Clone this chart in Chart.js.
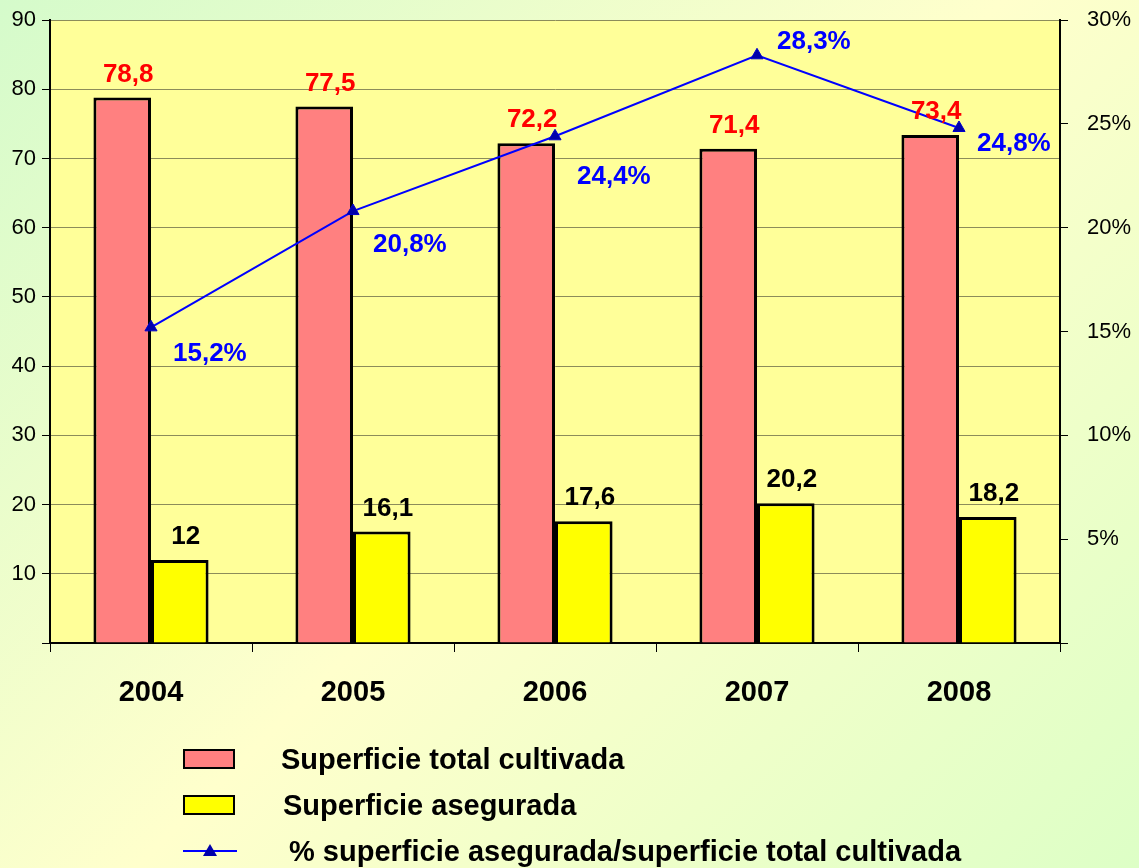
<html>
<head>
<script src="https://cdn.jsdelivr.net/npm/chart.js@4.4.1/dist/chart.umd.min.js"></script>
<style>
body { margin:0; width:1139px; height:868px; overflow:hidden;
  background: linear-gradient(135deg, #d5fbcb 0%, #ffffcc 50%, #ddffc6 100%);
  font-family: "Liberation Sans", Arial, sans-serif; }
#wrap { position:absolute; left:0; top:0; width:1139px; height:868px; }
#legend { position:absolute; left:183px; top:736px; font-weight:bold; font-size:29px; color:#000; }
#legend div { height:46px; display:flex; align-items:center; }
#legend .box { width:48px; height:16px; border:2px solid #000; display:inline-block; }
#legend canvas { display:inline-block; }
</style>
<script>

var years = ["2004","2005","2006","2007","2008"];
var total = [78.8, 77.5, 72.2, 71.4, 73.4];
var asegurada = [12, 16.1, 17.6, 20.2, 18.2];
var pct = [15.2, 20.8, 24.4, 28.3, 24.8];

var seriesNames = ["Superficie total cultivada", "Superficie asegurada", "% superficie asegurada/superficie total cultivada"];

function fmt(v) { return String(v).replace(".", ","); }

// label placement for the % values (dx, dy from the point)
var pctOffsets = [[22,26],[20,34],[22,41],[20,-13],[18,16]];

var plotBg = {
  id:'plotBg',
  beforeDraw(chart) {
    var a = chart.chartArea, c = chart.ctx;
    c.save(); c.fillStyle = '#ffff99';
    c.fillRect(a.left, a.top, a.right-a.left, a.bottom-a.top);
    c.restore();
  }
};

var valueLabels = {
  id:'valueLabels',
  afterDatasetsDraw(chart) {
    var c = chart.ctx;
    c.save();
    c.font = 'bold 26px "Liberation Sans", Arial';
    c.textAlign = 'center'; c.textBaseline = 'middle';
    [0,1].forEach(function(di) {
      var ds = chart.data.datasets[di];
      chart.getDatasetMeta(di).data.forEach(function(bar, i) {
        c.fillStyle = di == 0 ? '#ff0000' : '#000000';
        c.fillText(fmt(ds.data[i]), bar.x + 6, bar.y - 23);
      });
    });
    c.textAlign = 'left';
    c.fillStyle = '#0000ff';
    chart.getDatasetMeta(2).data.forEach(function(pt, i) {
      c.fillText(fmt(pct[i]) + '%', pt.x + pctOffsets[i][0], pt.y + pctOffsets[i][1]);
    });
    c.restore();
  }
};

function draw() {
  var ctx = document.getElementById('myChart').getContext('2d');
  var myChart = new Chart(ctx, {
    type: 'bar',
    data: {
      labels: years,
      datasets: [
        {label:seriesNames[0], data:total, backgroundColor:'#ff8080', borderColor:'#000', borderWidth:3, yAxisID:'y', order:2,
          categoryPercentage:0.57, barPercentage:1.0},
        {label:seriesNames[1], data:asegurada, backgroundColor:'#ffff00', borderColor:'#000', borderWidth:3, yAxisID:'y', order:2,
          categoryPercentage:0.57, barPercentage:1.0},
        {label:seriesNames[2], type:'line', data:pct, yAxisID:'y1', order:1,
          borderColor:'#0000ff', borderWidth:2, pointStyle:'triangle', pointRadius:7,
          pointBackgroundColor:'#0000aa', pointBorderColor:'#0000cc', pointBorderWidth:1}
      ]
    },
    options: {
      responsive:false,
      animation:false,
      layout:{padding:{top:20, left:0, right:0, bottom:0}},
      plugins:{legend:{display:false}, tooltip:{enabled:false}},
      scales: {
        x:{
          offset:true,
          grid:{offset:true, drawOnChartArea:false, drawTicks:true, tickLength:9, color:'#000', lineWidth:1},
          border:{color:'#000', width:2},
          ticks:{color:'#000', font:{family:'"Liberation Sans", Arial', size:29, weight:'bold'}, padding:24},
          afterFit(s) { s.height = 225; s.paddingLeft = 0; s.paddingRight = 0; }
        },
        y:{
          position:'left', min:0, max:90,
          ticks:{stepSize:10, color:'#000', padding:6, font:{family:'"Liberation Sans", Arial', size:22},
            callback:function(v){ return v == 0 ? '' : v; }},
          grid:{color:'#8c8c5a', lineWidth:1, tickLength:8, tickColor:'#000'},
          border:{color:'#000', width:2},
          afterFit(s) { s.width = 50; s.paddingTop = 0; s.paddingBottom = 0; }
        },
        y1:{
          position:'right', min:0, max:30,
          ticks:{stepSize:5, color:'#000', padding:19, font:{family:'"Liberation Sans", Arial', size:22},
            callback:function(v){ return v == 0 ? '' : v + '%'; }},
          grid:{drawOnChartArea:false, tickLength:8, color:'#000'},
          border:{color:'#000', width:2},
          afterFit(s) { s.width = 79; s.paddingTop = 0; s.paddingBottom = 0; }
        }
      }
    },
    plugins:[plotBg, valueLabels]
  });
}

function buildLegend() {
  var lg = document.getElementById('legend');
  var html = '';
  html += '<div><span class="box" style="background:#ff8080"></span><span style="margin-left:46px">' + seriesNames[0] + '</span></div>';
  html += '<div><span class="box" style="background:#ffff00"></span><span style="margin-left:48px">' + seriesNames[1] + '</span></div>';
  html += '<div><canvas id="lgline" width="54" height="20"></canvas><span style="margin-left:52px">' + seriesNames[2] + '</span></div>';
  lg.innerHTML = html;
  var c = document.getElementById('lgline').getContext('2d');
  c.strokeStyle = '#0000ff'; c.lineWidth = 2;
  c.beginPath(); c.moveTo(0,10); c.lineTo(54,10); c.stroke();
  c.fillStyle = '#0000aa';
  c.beginPath(); c.moveTo(27,3); c.lineTo(34,15); c.lineTo(20,15); c.closePath(); c.fill();
}

function load() { draw(); buildLegend(); }
</script>
</head>
<body onload="load()">
<div id="wrap"><canvas id="myChart" width="1139" height="868"></canvas></div>
<div id="legend"></div>
</body>
</html>
